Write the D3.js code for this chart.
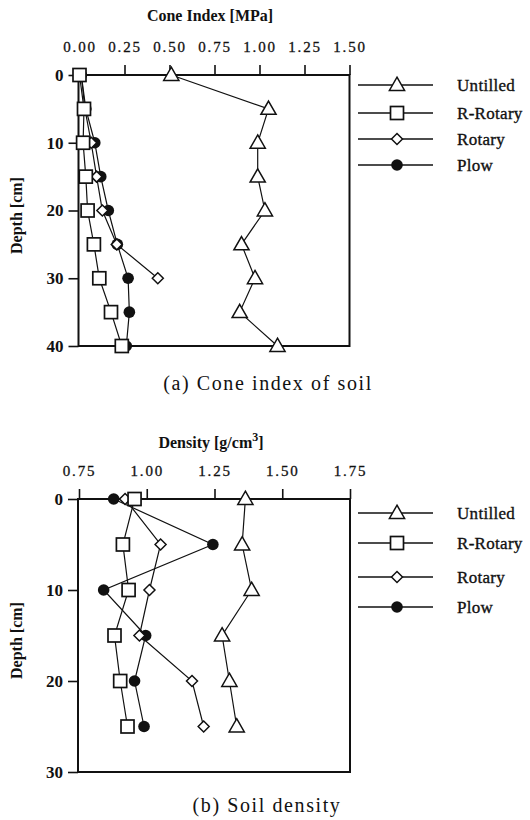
<!DOCTYPE html>
<meta charset="utf-8">
<style>
  body { margin: 0; background: #fff; }
  svg text { font-family: "Liberation Serif", "DejaVu Serif", serif; fill: #111; }
  .frame { fill: none; stroke: #111; stroke-width: 2; }
  .series { fill: none; stroke: #111; stroke-width: 1.2; }
  .tick line { stroke: #111; stroke-width: 1.6; }
  .domain { display: none; }
</style>
<body>
<svg width="530" height="820"></svg>
<script src="https://d3js.org/d3.v7.min.js"></script>
<script>
// ---- data ----
const seriesNames = ["Untilled", "R-Rotary", "Rotary", "Plow"];
const markers = ["triangle", "square", "diamond", "circle"];

// (a) cone index, MPa
const coneDepth = [0, 5, 10, 15, 20, 25, 30, 35, 40];
const coneUntilled = [0.51, 1.05, 0.99, 0.99, 1.03, 0.90, 0.975, 0.89, 1.10];
const coneRRotary = [0.00, 0.025, 0.02, 0.035, 0.045, 0.08, 0.11, 0.175, 0.235];
const coneRotary = [0.01, 0.03, 0.065, 0.095, 0.127, 0.207, 0.435];   // 0..30 cm
const conePlow = [0.01, 0.035, 0.085, 0.118, 0.16, 0.21, 0.27, 0.277, 0.26];
const coneTicks = [0, 0.25, 0.5, 0.75, 1.0, 1.25, 1.5];
const coneDepthTicks = [0, 10, 20, 30, 40];

// (b) density, g/cm3
const denDepth = [0, 5, 10, 15, 20, 25];
const denUntilled = [1.364, 1.352, 1.387, 1.278, 1.305, 1.332];
const denRRotary = [0.955, 0.912, 0.933, 0.881, 0.902, 0.929];
const denRotary = [0.92, 1.051, 1.01, 0.973, 1.167, 1.21];
const denPlow = [0.878, 1.244, 0.841, 0.996, 0.955, 0.99];
const denTicks = [0.75, 1.0, 1.25, 1.5, 1.75];
const denDepthTicks = [0, 10, 20, 30];

const svg = d3.select("svg");

function marker(g, type, x, y) {
  if (type == "triangle") {
    g.append("path").attr("d", d3.symbol(d3.symbolTriangle, 100)())
      .attr("transform", "translate(" + x + "," + (y + 1) + ")")
      .attr("fill", "#fff").attr("stroke", "#111").attr("stroke-width", 1.5);
  } else if (type == "square") {
    g.append("rect").attr("x", x - 6.5).attr("y", y - 6.5).attr("width", 13).attr("height", 13)
      .attr("fill", "#fff").attr("stroke", "#111").attr("stroke-width", 1.7);
  } else if (type == "diamond") {
    g.append("path").attr("d", "M0,-5.5L5.5,0L0,5.5L-5.5,0Z")
      .attr("transform", "translate(" + x + "," + y + ")")
      .attr("fill", "#fff").attr("stroke", "#111").attr("stroke-width", 1.5);
  } else {
    g.append("circle").attr("cx", x).attr("cy", y).attr("r", 5.8).attr("fill", "#111");
  }
}

function panel(opt) {
  const x = d3.scaleLinear().domain(opt.xDomain).range(opt.xRange);
  const y = d3.scaleLinear().domain(opt.yDomain).range(opt.yRange);
  const g = svg.append("g");

  // frame
  g.append("rect").attr("class", "frame")
    .attr("x", opt.xRange[0] - 1).attr("y", opt.yRange[0])
    .attr("width", opt.xRange[1] - opt.xRange[0] + 1).attr("height", opt.yRange[1] - opt.yRange[0]);

  // top axis
  const xa = g.append("g").attr("transform", "translate(0," + opt.yRange[0] + ")")
    .call(d3.axisTop(x).tickValues(opt.xTicks).tickFormat(d3.format(".2f")).tickSize(10).tickPadding(13));
  xa.selectAll("text").attr("font-size", 15).attr("letter-spacing", 1.8)
    .attr("stroke", "#111").attr("stroke-width", 0.3).style("font-family", "Liberation Serif");
  if (opt.skipFirstTick) xa.selectAll(".tick line").filter(function(d) { return d == opt.xTicks[0]; }).remove();

  // left axis
  const ya = g.append("g").attr("transform", "translate(" + (opt.xRange[0] - 1) + ",0)")
    .call(d3.axisLeft(y).tickValues(opt.yTicks).tickSize(10).tickPadding(5));
  ya.selectAll("text").attr("font-size", 17).attr("font-weight", "bold").style("font-family", "Liberation Serif");

  // titles
  g.append("text").attr("x", opt.titleX).attr("y", opt.titleY).attr("text-anchor", "middle")
    .attr("font-size", 16).attr("font-weight", "bold").html(opt.title);
  g.append("text").attr("transform", "translate(22," + ((opt.yRange[0] + opt.yRange[1]) / 2 + 5) + ") rotate(-90)")
    .attr("text-anchor", "middle").attr("font-size", 16).attr("font-weight", "bold").text("Depth [cm]");
  g.append("text").attr("x", opt.captionX).attr("y", opt.captionY).attr("text-anchor", "middle")
    .attr("font-size", 20).attr("letter-spacing", 1.6).text(opt.caption);

  // series: draw plow first so open markers sit on top
  const order = [3, 2, 1, 0];
  order.forEach(function(i) {
    const vals = opt.series[i];
    const pts = vals.map(function(v, k) { return [x(v), y(opt.depth[k])]; });
    g.append("path").attr("class", "series").attr("d", d3.line()(pts));
  });
  order.forEach(function(i) {
    opt.series[i].forEach(function(v, k) { marker(g, markers[i], x(v), y(opt.depth[k])); });
  });

  // legend
  const lg = g.append("g");
  seriesNames.forEach(function(name, i) {
    const ly = opt.legendY[i];
    lg.append("line").attr("x1", 358).attr("x2", 433).attr("y1", ly).attr("y2", ly)
      .attr("stroke", "#111").attr("stroke-width", 1.4);
    marker(lg, markers[i], 397, ly);
    lg.append("text").attr("x", 457).attr("y", ly + 6).attr("font-size", 17)
      .attr("letter-spacing", 0.3).attr("stroke", "#111").attr("stroke-width", 0.35).text(name);
  });
}

panel({
  xDomain: [0, 1.5], xRange: [79.5, 349.5],
  yDomain: [0, 40], yRange: [75, 346],
  xTicks: coneTicks, yTicks: coneDepthTicks,
  depth: coneDepth,
  series: [coneUntilled, coneRRotary, coneRotary, conePlow],
  title: "Cone Index [MPa]", titleX: 210, titleY: 21,
  caption: "(a) Cone index of soil", captionX: 268, captionY: 390,
  legendY: [85, 113, 139, 165],
  skipFirstTick: true
});

panel({
  xDomain: [0.75, 1.75], xRange: [79, 350],
  yDomain: [0, 30], yRange: [499, 772],
  xTicks: denTicks, yTicks: denDepthTicks,
  depth: denDepth,
  series: [denUntilled, denRRotary, denRotary, denPlow],
  title: "Density [g/cm<tspan dy='-7' font-size='12'>3</tspan><tspan dy='7'>]</tspan>", titleX: 211, titleY: 448,
  caption: "(b) Soil density", captionX: 267, captionY: 812,
  legendY: [513, 543, 577, 607]
});
</script>
</body>
